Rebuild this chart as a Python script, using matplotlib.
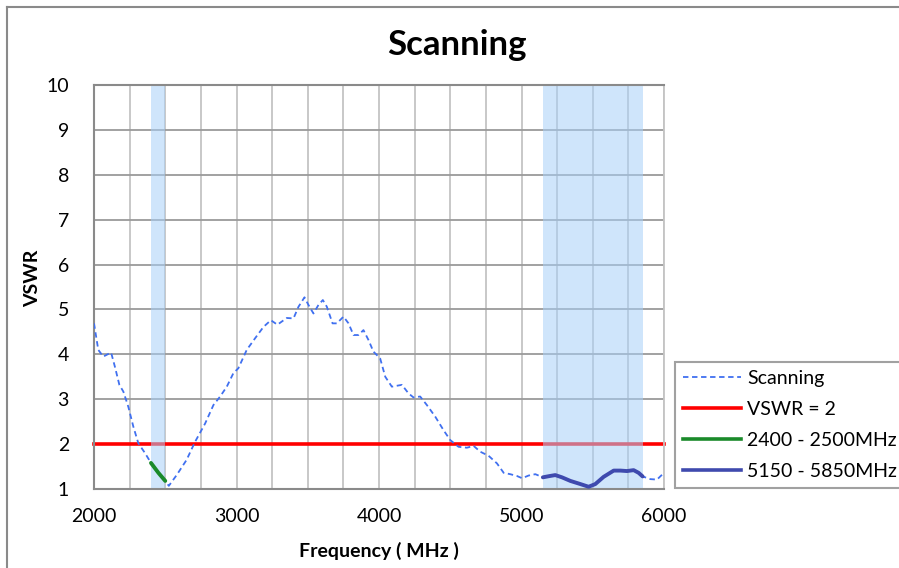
import numpy as np
import matplotlib
matplotlib.use('Agg')
import matplotlib.pyplot as plt
from matplotlib.lines import Line2D

plt.rcParams['font.family'] = ['Lato', 'DejaVu Sans']

# Measured VSWR sweep
freq = np.array([2000, 2030, 2065, 2120, 2147, 2178, 2206, 2241, 2276, 2311, 2358, 2400,
                 2452, 2500, 2525, 2580, 2650, 2709, 2780, 2838, 2885, 2932, 2978, 3013,
                 3072, 3131, 3189, 3241, 3287, 3353, 3400, 3435, 3477, 3505, 3540, 3575,
                 3606, 3634, 3674, 3704, 3751, 3786, 3821, 3856, 3891, 3926, 3961, 4008,
                 4044, 4090, 4161, 4207, 4242, 4289, 4336, 4395, 4453, 4500, 4558, 4617,
                 4664, 4711, 4769, 4828, 4875, 4921, 4968, 5004, 5050, 5097, 5150, 5200,
                 5237, 5284, 5343, 5413, 5471, 5518, 5576, 5647, 5694, 5740, 5787, 5822,
                 5850, 5904, 5951, 6000])
vswr = np.array([4.69, 4.10, 3.95, 4.04, 3.72, 3.32, 3.17, 2.83, 2.39, 2.02, 1.80, 1.58,
                 1.36, 1.18, 1.07, 1.31, 1.65, 2.05, 2.46, 2.87, 3.06, 3.28, 3.58, 3.69,
                 4.10, 4.36, 4.61, 4.76, 4.66, 4.81, 4.80, 5.06, 5.27, 5.10, 4.91, 5.10,
                 5.21, 5.06, 4.69, 4.69, 4.84, 4.69, 4.43, 4.43, 4.54, 4.32, 4.06, 3.91,
                 3.50, 3.28, 3.32, 3.13, 3.04, 3.06, 2.87, 2.61, 2.31, 2.09, 1.94, 1.92,
                 1.96, 1.83, 1.74, 1.57, 1.36, 1.33, 1.29, 1.24, 1.30, 1.33, 1.26, 1.29,
                 1.31, 1.26, 1.18, 1.11, 1.05, 1.11, 1.27, 1.41, 1.41, 1.40, 1.42, 1.36,
                 1.28, 1.22, 1.21, 1.36])

# VSWR = 2 reference
ref_freq = [2000, 6000]
ref_vswr = [2, 2]

# Wi-Fi bands
band_lo = [2400, 5150]
band_hi = [2500, 5850]
band_labels = ['2400 - 2500MHz', '5150 - 5850MHz']
band_colors = ['#1a8a2a', '#3f4aae']

x_ticks = [2000, 3000, 4000, 5000, 6000]
y_ticks = list(range(1, 11))

fig = plt.figure(figsize=(8.99, 5.68), dpi=100)
ax = fig.add_axes([94 / 899, 1 - 489 / 568, 570 / 899, 404 / 568])

# outer chart border (left and top edges only are inside the image)
x0, y0 = 7 / 899, 1 - 7 / 568
fig.add_artist(Line2D([x0, x0], [0, y0], transform=fig.transFigure,
                      color='#8a8a8a', linewidth=1.5))
fig.add_artist(Line2D([x0, 1.01], [y0, y0], transform=fig.transFigure,
                      color='#8a8a8a', linewidth=1.5))

ax.set_xlim(2000, 6000)
ax.set_ylim(1, 10)
ax.set_xticks(x_ticks)
ax.set_xticks(np.arange(2000, 6001, 250), minor=True)
ax.set_yticks(y_ticks)
ax.grid(True, which='major', axis='y', color='#9a9a9a', linewidth=1.3, zorder=0)
ax.grid(True, which='both', axis='x', color='#c4c4c4', linewidth=1.3, zorder=0)
ax.set_axisbelow(True)
ax.tick_params(which='both', length=0)
ax.tick_params(axis='y', pad=18, labelsize=14)
ax.tick_params(axis='x', pad=14, labelsize=14)
for side in ['left', 'bottom', 'top']:
    ax.spines[side].set_color('#8a8a8a')
    ax.spines[side].set_linewidth(1.5)
ax.spines['right'].set_color('#c4c4c4')
ax.spines['right'].set_linewidth(1.3)

ax.plot(ref_freq, ref_vswr, color='#ff0000', linewidth=2.6, zorder=2, clip_on=False)
for lo, hi in zip(band_lo, band_hi):
    ax.axvspan(lo, hi, color='#a8d0f8', alpha=0.55, linewidth=0, zorder=2.5)

ax.plot(freq, vswr, color='#4070f0', linewidth=1.3, dashes=(3, 2), zorder=3)
for lo, hi, c in zip(band_lo, band_hi, band_colors):
    m = (freq >= lo) & (freq <= hi)
    ax.plot(freq[m], vswr[m], color=c, linewidth=2.8, zorder=4,
            solid_capstyle='round')

ax.set_xlabel('Frequency ( MHz )', fontsize=14, fontweight='bold')
ax.xaxis.set_label_coords(0.5, -(551 - 489) / 404, transform=ax.transAxes)
ax.xaxis.label.set_va('center')
ax.set_ylabel('VSWR', fontsize=14, fontweight='bold')
ax.yaxis.set_label_coords(-(94 - 33) / 570, (489 - 278) / 404)
ax.yaxis.label.set_va('center')
fig.text(457 / 899, 1 - 45 / 568, 'Scanning', ha='center', va='center',
         fontsize=25, fontweight='bold')

handles = [Line2D([], [], color='#4070f0', linewidth=1.3, dashes=(3, 2)),
           Line2D([], [], color='#ff0000', linewidth=2.6),
           Line2D([], [], color=band_colors[0], linewidth=2.6),
           Line2D([], [], color=band_colors[1], linewidth=2.6)]
labels = ['Scanning', 'VSWR = 2'] + band_labels
leg = fig.legend(handles, labels, loc='lower left',
                 bbox_to_anchor=(675 / 899, 1 - 488 / 568), fontsize=14,
                 frameon=True, fancybox=False, handlelength=3.0,
                 handletextpad=0.3, labelspacing=0.72, borderpad=0.4,
                 borderaxespad=0)
leg.get_frame().set_edgecolor('#8a8a8a')
leg.get_frame().set_linewidth(1.5)

fig.savefig('out.png', dpi=100)
